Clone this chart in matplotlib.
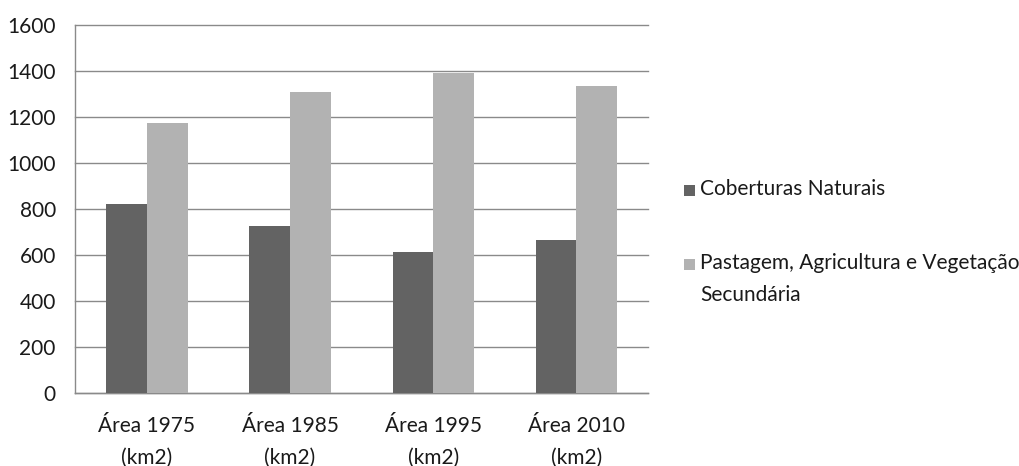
import numpy as np
import matplotlib.pyplot as plt
from matplotlib.patches import Rectangle

plt.rcParams['font.family'] = ['Lato', 'DejaVu Sans']

categorias = ['Área 1975\n(km2)', 'Área 1985\n(km2)', 'Área 1995\n(km2)', 'Área 2010\n(km2)']
naturais = [822, 728, 616, 667]
pastagem = [1175, 1308, 1391, 1338]
series = ['Coberturas Naturais', 'Pastagem, Agricultura e Vegetação\nSecundária']
cores = ['#636363', '#b2b2b2']

fig = plt.figure(figsize=(10.2, 4.66), dpi=100)
ax = fig.add_axes([0.0738, 0.156, 0.5615, 0.7897])

x = np.arange(len(categorias))
w = 0.284
ax.bar(x - w/2, naturais, w, color=cores[0], zorder=3)
ax.bar(x + w/2, pastagem, w, color=cores[1], zorder=3)

ax.set_xlim(-0.5, len(categorias) - 0.5)
ax.set_ylim(0, 1600)
ax.set_yticks(np.arange(0, 1601, 200))
ax.set_xticks(x)
ax.set_xticklabels(categorias, linespacing=1.75)

ax.yaxis.grid(True, color='#8a8a8a', linewidth=1.0)
for gl in ax.get_ygridlines():
    gl.set_clip_on(False)
ax.set_axisbelow(True)

for s in ['top', 'right']:
    ax.spines[s].set_visible(False)
for s in ['left', 'bottom']:
    ax.spines[s].set_color('#8a8a8a')
    ax.spines[s].set_linewidth(1.0)

ax.tick_params(axis='both', length=0, labelsize=15, colors='#1a1a1a')
ax.tick_params(axis='y', pad=14)
ax.tick_params(axis='x', pad=16)

# legenda desenhada à direita do gráfico
H = 466
W = 1020
for cor, texto, yc in zip(cores, series, [190, 264]):
    fig.add_artist(Rectangle((684 / W, 1 - (yc + 6) / H), 11 / W, 11 / H,
                             transform=fig.transFigure, color=cor, lw=0))
    fig.text(700 / W, 1 - (yc - 11) / H, texto, fontsize=15, color='#1a1a1a',
             va='top', ha='left', linespacing=1.75)

fig.savefig('out.png', dpi=100, facecolor='white')
